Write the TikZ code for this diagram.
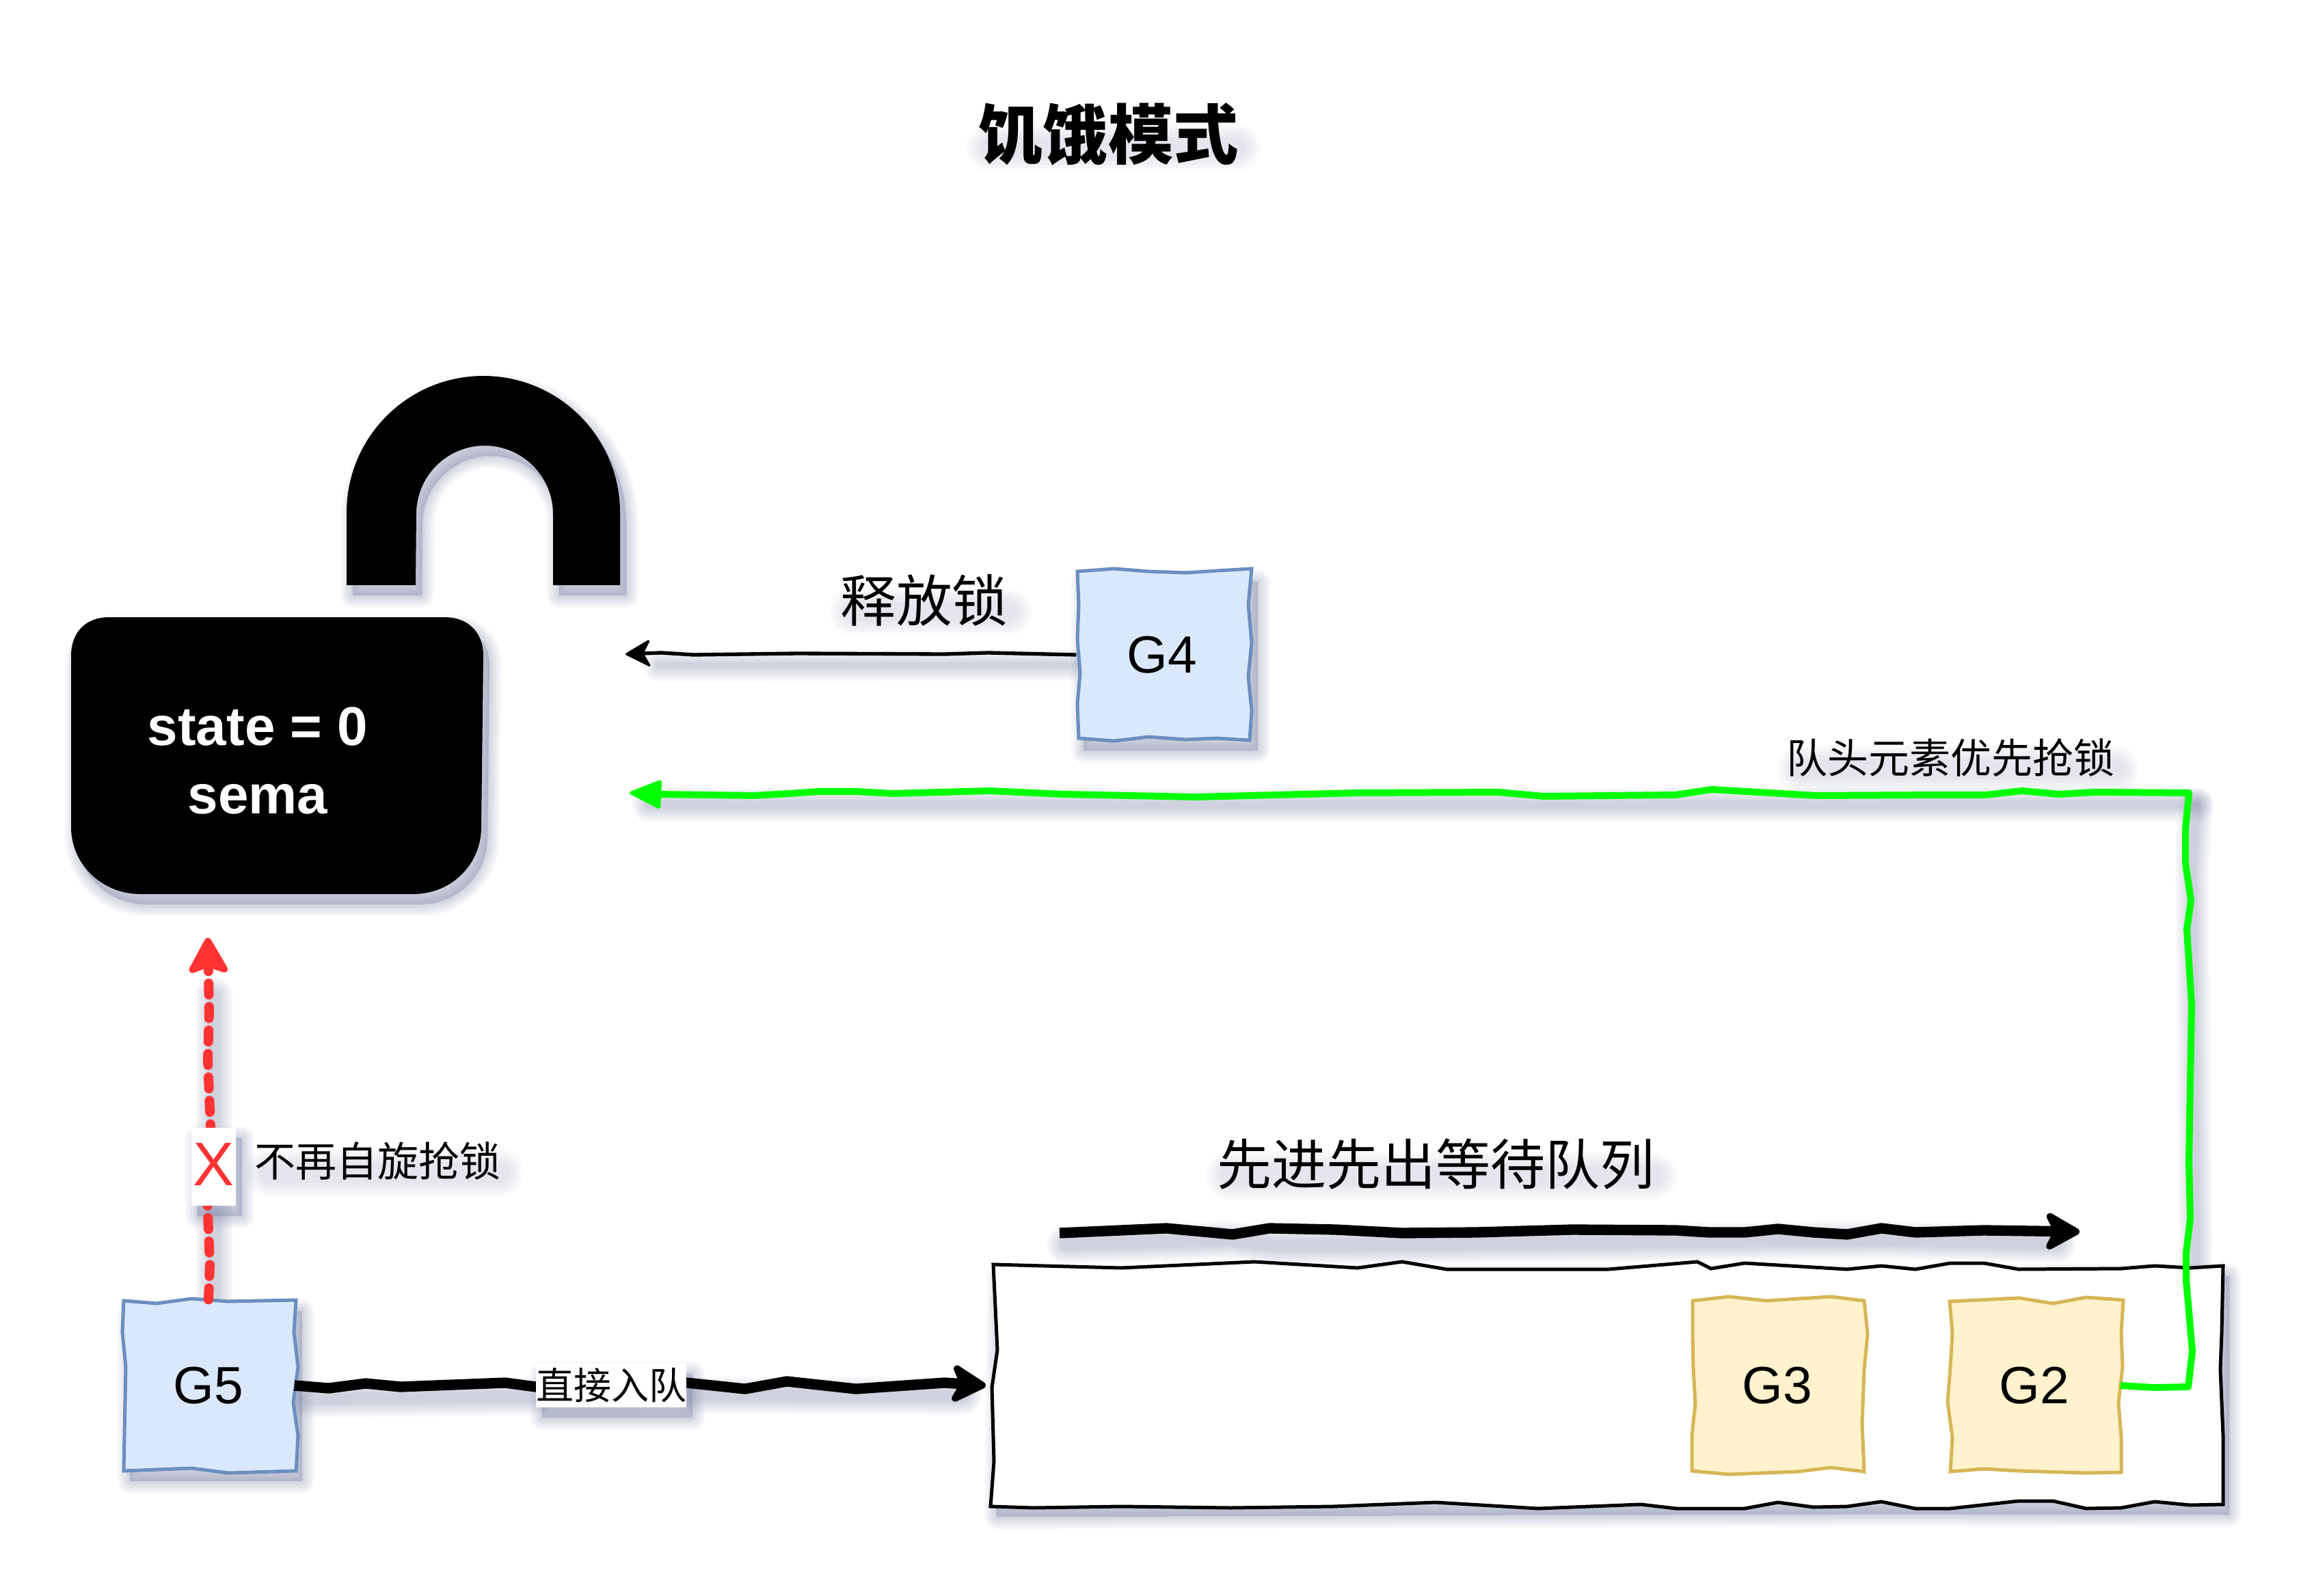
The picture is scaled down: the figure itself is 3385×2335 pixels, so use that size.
\documentclass[tikz,border=0pt]{standalone}
\usepackage{fontspec}
\setmainfont{Liberation Sans}
\newfontfamily\cjk{Noto Sans CJK SC}
\usetikzlibrary{arrows.meta,shapes.geometric}
\definecolor{shcol}{HTML}{7C84A8}
\definecolor{bluefill}{HTML}{DAE8FC}
\definecolor{bluedraw}{HTML}{6C8EBF}
\definecolor{yelfill}{HTML}{FFF2CC}
\definecolor{yeldraw}{HTML}{D6B656}
\definecolor{redline}{HTML}{FF3333}
\definecolor{greenline}{HTML}{00FF00}
% px -> pt: 0.3
\newcommand{\softline}[2]{\foreach \w in {40,34,28,22,16,11,6,2}{%
  \draw[shcol,opacity=.05,line width=#1*0.3pt+\w*0.3pt,line join=round,line cap=round,shift={(9,17)}] #2;}}
\newcommand{\softfill}[1]{\foreach \w in {36,30,25,20,15,10,6,2}{%
  \path[draw=shcol,fill=shcol,opacity=.05,line width=\w*0.3pt,line join=round,shift={(9,15)}] #1;}}
\newcommand{\softtext}[3]{% left, right, y
  \foreach \w in {70,60,50,40,30}{%
  \draw[shcol,opacity=.04,line width=\w*0.3pt,line cap=round,shift={(9,17)}] (#1,#3) -- (#2,#3);}}
\tikzset{
  x=0.3pt,y=-0.3pt,
  gbox/.style={inner sep=0pt,minimum width=75pt,minimum height=75pt,font=\fontsize{23pt}{27pt}\selectfont,text=black},
  sketchblue/.style={draw=bluedraw,fill=bluefill,line width=1.5pt,line join=miter},
  sketchyel/.style={draw=yeldraw,fill=yelfill,line width=1.5pt,line join=miter},
  lbl/.style={inner sep=0pt,text=black},
  thickconn/.style={draw=black,line width=4.6pt,line join=round,-{Stealth[length=18pt,width=20pt,inset=5pt,round,line width=3pt]}},
  thinconn/.style={draw=black,line width=1.6pt,line join=round,-{Stealth[length=12pt,width=13pt,inset=3.5pt,round,line width=1pt]}},
  greenconn/.style={draw=greenline,line width=3pt,line join=round,-{Stealth[length=15pt,width=13pt,inset=0pt,round,line width=1.5pt]}},
  redconn/.style={draw=redline,line width=4.2pt,line cap=round,dash pattern=on 5pt off 5.3pt,-{Stealth[length=18pt,width=20pt,inset=3.5pt,round,line width=3pt]}},
}
\begin{document}
\begin{tikzpicture}
\useasboundingbox (0,0) rectangle (3385,2335);
\fill[white] (0,0) rectangle (3385,2335);

% ---------- anchor nodes
\node[gbox] (g4) at (1700,958) {G4};
\node[gbox] (g5) at (305,2027) {G5};
\node[gbox] (g3) at (2600,2027) {G3};
\node[gbox] (g2) at (2976,2027) {G2};
\coordinate (lockgreen) at (921,1160);
\coordinate (lockblack) at (915,957);
\coordinate (lockred) at (304,1372);
\coordinate (queuew) at (1442,2027);
\coordinate (flowa) at (1550,1804);
\coordinate (flowb) at (3042,1802);

% ---------- shadows
\softfill{(104,960) .. controls (104,925) and (125,903) .. (160,903) -- (650,903) .. controls (685,903) and (707,925) .. (707,960) -- (704,1210) .. controls (704,1265) and (660,1308) .. (605,1308) -- (205,1308) .. controls (150,1308) and (104,1265) .. (104,1210) -- cycle}
\softfill{(507,856) -- (507,750) arc[start angle=180,end angle=360,radius=200] -- (907,856) -- (809,856) -- (809,752) arc[start angle=360,end angle=180,radius=100] -- (608,856) -- cycle}
\softtext{1440}{1800}{199}
\softtext{1240}{1465}{878}
\softtext{2625}{3085}{1108}
\softtext{1790}{2410}{1703}
\softtext{385}{722}{1699}
\softfill{(280,1650) rectangle (345,1764)}
\softline{14}{(304,1440) -- (304,1900)}
\softline{5}{(1576,956) -- (955,957)}
\softline{9}{(3204,1160) -- (3198,1260) -- (3204,1860)}
\softline{9}{(3204,1160) -- (2400,1160) -- (940,1160)}
\softline{15}{(1550,1804) -- (1790,1797) -- (1860,1806) -- (2160,1803) -- (2452,1800) -- (2601,1798) -- (2752,1797) -- (3000,1803)}
\softfill{(181,1903) rectangle (433,2152)}
\softfill{(1576,836) rectangle (1831,1083)}
\softline{14}{(436,2030) -- (784,2026) -- (1004,2024) -- (1400,2026)}
\softfill{(784,1995) rectangle (1004,2059)}
\softfill{(1453,1855) -- (3252,1852) -- (3252,2201) -- (2752,2200) -- (1449,2204) -- cycle}

% ---------- padlock
\fill[black] (104,960) .. controls (104,925) and (125,903) .. (160,903) -- (650,903) .. controls (685,903) and (707,925) .. (707,960) -- (704,1210) .. controls (704,1265) and (660,1308) .. (605,1308) -- (205,1308) .. controls (150,1308) and (104,1265) .. (104,1210) -- cycle;
\fill[black] (507,856) -- (507,750) arc[start angle=180,end angle=360,radius=200] -- (907,856) -- (809,856) -- (809,752) arc[start angle=360,end angle=180,radius=100] -- (608,856) -- cycle;
\node[inner sep=0pt,align=center,text=white,font=\bfseries\fontsize{24pt}{30pt}\selectfont] (lockbody) at (377,1113) {state = 0\\sema};

% ---------- queue
\draw[fill=white,draw=black,line width=1.5pt,line join=miter] (1453,1850) -- (1640,1855) -- (1835,1846) -- (1986,1855) -- (2051,1846) -- (2116,1857) -- (2353,1857) -- (2483,1846) -- (2503,1856) -- (2552,1848) -- (2702,1857) -- (2752,1852) -- (2802,1857) -- (2853,1848) -- (2902,1848) -- (2953,1857) -- (3103,1856) -- (3152,1852) -- (3204,1855) -- (3252,1852) -- (3250,1950) -- (3248,2003) -- (3252,2100) -- (3252,2201) -- (3204,2202) -- (3152,2197) -- (3103,2206) -- (3052,2207) -- (3003,2196) -- (2953,2196) -- (2853,2207) -- (2802,2207) -- (2752,2197) -- (2702,2204) -- (2653,2205) -- (2601,2198) -- (2552,2207) -- (2452,2207) -- (2400,2201) -- (2250,2207) -- (2100,2198) -- (1950,2204) -- (1800,2206) -- (1640,2204) -- (1512,2206) -- (1449,2204) -- (1454,2138) -- (1451,2030) -- (1459,1975) -- cycle;

% ---------- wobbly boxes
\path[sketchblue] (1576,836) -- (1630,832) -- (1680,836) -- (1735,838) -- (1780,835) -- (1831,832) -- (1826,885) -- (1831,940) -- (1826,990) -- (1831,1040) -- (1828,1083) -- (1780,1080) -- (1735,1082) -- (1680,1078) -- (1630,1084) -- (1578,1080) -- (1576,1030) -- (1580,985) -- (1576,935) -- (1578,885) -- cycle;
\path[sketchblue] (181,1903) -- (229,1907) -- (280,1900) -- (334,1904) -- (433,1902) -- (430,1949) -- (436,2000) -- (429,2052) -- (436,2101) -- (433,2152) -- (334,2155) -- (280,2148) -- (181,2152) -- (184,2000) -- (179,1949) -- cycle;
\path[sketchyel] (2476,1903) -- (2529,1897) -- (2584,1903) -- (2678,1897) -- (2727,1903) -- (2732,1952) -- (2727,2003) -- (2724,2083) -- (2727,2153) -- (2678,2147) -- (2630,2153) -- (2529,2157) -- (2475,2152) -- (2475,2100) -- (2480,2053) -- (2477,2003) -- (2476,1950) -- cycle;
\path[sketchyel] (2852,1904) -- (2954,1899) -- (3003,1907) -- (3052,1898) -- (3106,1902) -- (3103,1950) -- (3105,2000) -- (3099,2052) -- (3103,2103) -- (3103,2154) -- (3052,2155) -- (2954,2152) -- (2902,2149) -- (2853,2153) -- (2856,2103) -- (2849,2052) -- (2853,2000) -- (2856,1950) -- cycle;
\node[gbox] at (g4) {G4};
\node[gbox] at (g5) {G5};
\node[gbox] at (g3) {G3};
\node[gbox] at (g2) {G2};

% ---------- connectors
\draw[thinconn] (g4.west) -- (1446,955) -- (1382,957) -- (1166,956) -- (1015,958) -- (967,955) -- (lockblack);
\draw[greenconn] (g2.east) -- (3150,2030) -- (3201,2029) -- (3207,1977) -- (3198,1873) -- (3198,1833) -- (3204,1783) -- (3202,1700) -- (3206,1470) -- (3199,1360) -- (3205,1317) -- (3197,1263) -- (3197,1213) -- (3202,1160) -- (3065,1159) -- (3011,1162) -- (2958,1157) -- (2905,1163) -- (2839,1163) -- (2656,1164) -- (2504,1155) -- (2451,1163) -- (2257,1165) -- (2192,1159) -- (1987,1160) -- (1749,1166) -- (1555,1162) -- (1447,1157) -- (1306,1161) -- (1253,1158) -- (1198,1158) -- (1155,1161) -- (1102,1164) -- (961,1162) -- (lockgreen);
\draw[thickconn] (g5.east) -- (481,2031) -- (535,2024) -- (586,2029) -- (739,2023) -- (784,2029) -- (1004,2023) -- (1090,2032) -- (1151,2021) -- (1252,2032) -- (1382,2023) -- (queuew);
\draw[thickconn] (flowa) -- (1706,1797) -- (1803,1806) -- (1857,1797) -- (1954,1799) -- (2051,1804) -- (2160,1803) -- (2300,1799) -- (2452,1800) -- (2500,1803) -- (2552,1803) -- (2601,1798) -- (2653,1803) -- (2702,1806) -- (2752,1797) -- (2802,1803) -- (2902,1800) -- (flowb);
\draw[redconn] (g5.north) -- (307,1850) -- (303,1750) -- (308,1650) -- (304,1550) -- (306,1480) -- (lockred);

% ---------- labels
\node[lbl,fill=white,minimum width=19.5pt,minimum height=34.2pt,text=redline,font=\fontsize{27pt}{30pt}\selectfont] (xmark) at (312.5,1707) {\raisebox{2pt}{X}};
\node[lbl,fill=white,minimum width=66pt,minimum height=19.2pt,font=\cjk\fontsize{16.5pt}{19pt}\selectfont] (direct) at (894,2027) {直接入队};
\node[lbl,font=\cjk\bfseries\fontsize{28.6pt}{31pt}\selectfont] (title) at (1621,197) {饥饿模式};
\node[lbl,font=\cjk\fontsize{24.5pt}{28pt}\selectfont] (release) at (1352,878) {释放锁};
\node[lbl,font=\cjk\fontsize{18pt}{22pt}\selectfont] (head) at (2853,1109) {队头元素优先抢锁};
\node[lbl,font=\cjk\fontsize{24pt}{28pt}\selectfont] (fifo) at (2100,1703) {先进先出等待队列};
\node[lbl,font=\cjk\fontsize{18pt}{22pt}\selectfont] (nospin) at (552,1699) {不再自旋抢锁};
\end{tikzpicture}
\end{document}
